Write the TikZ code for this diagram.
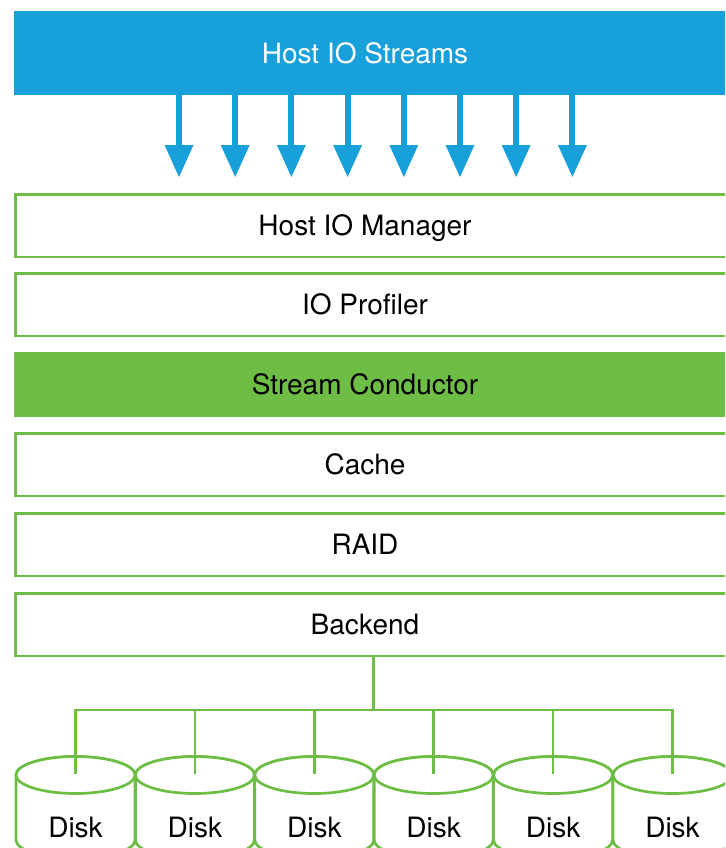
\documentclass[tikz,border=0pt]{standalone}
\usepackage{fontspec}
\setmainfont{TeX Gyre Heros}
\usetikzlibrary{arrows.meta}
\definecolor{hblue}{RGB}{24,160,219}
\definecolor{hgreen}{RGB}{110,190,70}
\begin{document}
\begin{tikzpicture}[x=1pt,y=-1pt,
  every node/.style={font=\fontsize{28}{33}\selectfont, inner sep=0pt, text height=20.1pt, text depth=0pt},
  layerbox/.style={draw=hgreen, line width=2.5pt, minimum width=730pt, minimum height=62.5pt,
    execute at begin node=\hspace*{-30.5pt}},
  hotbox/.style={fill=hgreen, minimum width=731pt, minimum height=65pt,
    execute at begin node=\hspace*{-29pt}},
  streambox/.style={fill=hblue, text=white, minimum width=731pt, minimum height=84pt,
    execute at begin node=\hspace*{-29pt}},
  streamarrow/.style={draw=hblue, line width=6pt, -{Triangle[length=32pt,width=29pt,line width=0pt]}},
  link/.style={draw=hgreen, line width=2.5pt},
  disk/.style={draw=hgreen, line width=2.7pt, fill=white},
  disklabel/.style={}
]
\useasboundingbox (0,0) rectangle (725,848);
\clip (0,0) rectangle (725,848);

\node[streambox] (host) at (379.5,53) {Host IO Streams};
\foreach \i in {0,...,7} {
  \coordinate (t\i) at (179+56.2*\i,177);
  \draw[streamarrow] (host.south -| t\i) -- (t\i);
}

\node[layerbox] (mgr)  at (380.25,225.5) {Host IO Manager};
\node[layerbox] (prof) at (380.25,304.5) {IO Profiler};
\node[hotbox]   (cond) at (379.5,384.5)  {Stream Conductor};
\node[layerbox] (cache) at (380.25,464.5) {Cache};
\node[layerbox] (raid) at (380.25,544.5) {RAID};
\node[layerbox] (back) at (380.25,624.5) {Backend};

\coordinate (bus) at (373.5,710);
\draw[link] (back.south -| bus) -- (bus);

\foreach \i in {0,...,5} {
  \pgfmathsetmacro\cx{75.5+119.4*\i}
  \filldraw[disk] (\cx-59.5,775) -- (\cx-59.5,840)
     arc[start angle=180,end angle=360,x radius=59.5pt,y radius=18.5pt]
     -- (\cx+59.5,775)
     arc[start angle=0,end angle=180,x radius=59.5pt,y radius=18.5pt] -- cycle;
  \draw[disk] (\cx,775) ellipse[x radius=59.5pt,y radius=18.5pt];
  \coordinate (d\i) at (\cx,774);
  \node[disklabel] (disk\i) at (\cx,827) {Disk};
}
\foreach \i in {0,...,5} {
  \draw[link] (bus) -| (d\i);
}
\end{tikzpicture}
\end{document}
